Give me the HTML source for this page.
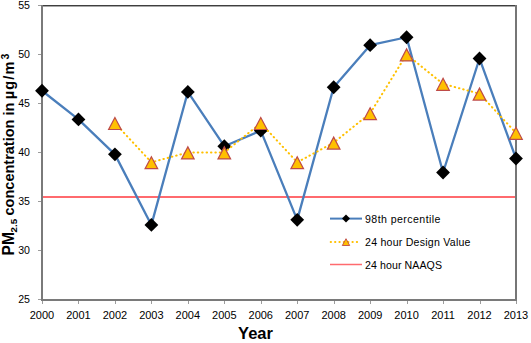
<!DOCTYPE html>
<html><head><meta charset="utf-8"><style>
html,body{margin:0;padding:0;background:#fff;width:531px;height:343px;overflow:hidden}
svg{display:block;font-family:"Liberation Sans", sans-serif}
</style></head><body>
<svg width="531" height="343" viewBox="0 0 531 343">
<rect width="531" height="343" fill="#fff"/>
<g shape-rendering="crispEdges">
<rect x="42" y="5" width="474" height="1" fill="#3f3f3f"/>
<rect x="42" y="6" width="474" height="1" fill="#a8a8a8"/>
<rect x="515" y="5" width="2" height="296" fill="#767676"/>
<rect x="41" y="5" width="2" height="296" fill="#7a7a7a"/>
<rect x="41" y="299" width="476" height="2" fill="#7a7a7a"/>
<rect x="38" y="5" width="3" height="1" fill="#9c9c9c"/>
<rect x="38" y="54" width="3" height="1" fill="#9c9c9c"/>
<rect x="38" y="103" width="3" height="1" fill="#9c9c9c"/>
<rect x="38" y="152" width="3" height="1" fill="#9c9c9c"/>
<rect x="38" y="201" width="3" height="1" fill="#9c9c9c"/>
<rect x="38" y="250" width="3" height="1" fill="#9c9c9c"/>
<rect x="38" y="299" width="3" height="1" fill="#9c9c9c"/>
<rect x="42" y="301" width="1" height="3" fill="#9c9c9c"/>
<rect x="78" y="301" width="1" height="3" fill="#9c9c9c"/>
<rect x="115" y="301" width="1" height="3" fill="#9c9c9c"/>
<rect x="151" y="301" width="1" height="3" fill="#9c9c9c"/>
<rect x="188" y="301" width="1" height="3" fill="#9c9c9c"/>
<rect x="224" y="301" width="1" height="3" fill="#9c9c9c"/>
<rect x="261" y="301" width="1" height="3" fill="#9c9c9c"/>
<rect x="297" y="301" width="1" height="3" fill="#9c9c9c"/>
<rect x="334" y="301" width="1" height="3" fill="#9c9c9c"/>
<rect x="370" y="301" width="1" height="3" fill="#9c9c9c"/>
<rect x="407" y="301" width="1" height="3" fill="#9c9c9c"/>
<rect x="443" y="301" width="1" height="3" fill="#9c9c9c"/>
<rect x="480" y="301" width="1" height="3" fill="#9c9c9c"/>
<rect x="516" y="301" width="1" height="3" fill="#9c9c9c"/>
</g>
<text x="30" y="9" text-anchor="end" font-size="10.6" fill="#000">55</text>
<text x="30" y="58" text-anchor="end" font-size="10.6" fill="#000">50</text>
<text x="30" y="107" text-anchor="end" font-size="10.6" fill="#000">45</text>
<text x="30" y="156" text-anchor="end" font-size="10.6" fill="#000">40</text>
<text x="30" y="205" text-anchor="end" font-size="10.6" fill="#000">35</text>
<text x="30" y="254" text-anchor="end" font-size="10.6" fill="#000">30</text>
<text x="30" y="303" text-anchor="end" font-size="10.6" fill="#000">25</text>
<text x="42.0" y="319" text-anchor="middle" font-size="11" fill="#000">2000</text>
<text x="78.46000000000001" y="319" text-anchor="middle" font-size="11" fill="#000">2001</text>
<text x="114.92" y="319" text-anchor="middle" font-size="11" fill="#000">2002</text>
<text x="151.38" y="319" text-anchor="middle" font-size="11" fill="#000">2003</text>
<text x="187.84" y="319" text-anchor="middle" font-size="11" fill="#000">2004</text>
<text x="224.3" y="319" text-anchor="middle" font-size="11" fill="#000">2005</text>
<text x="260.76" y="319" text-anchor="middle" font-size="11" fill="#000">2006</text>
<text x="297.22" y="319" text-anchor="middle" font-size="11" fill="#000">2007</text>
<text x="333.68" y="319" text-anchor="middle" font-size="11" fill="#000">2008</text>
<text x="370.14" y="319" text-anchor="middle" font-size="11" fill="#000">2009</text>
<text x="406.6" y="319" text-anchor="middle" font-size="11" fill="#000">2010</text>
<text x="443.06" y="319" text-anchor="middle" font-size="11" fill="#000">2011</text>
<text x="479.52" y="319" text-anchor="middle" font-size="11" fill="#000">2012</text>
<text x="515.98" y="319" text-anchor="middle" font-size="11" fill="#000">2013</text>
<line x1="43" y1="197" x2="515" y2="197" stroke="#FF6A6E" stroke-width="2"/>
<polyline points="42.00,90.76 78.46,119.38 114.92,154.36 151.38,224.92 187.84,91.94 224.30,146.23 260.76,130.65 297.22,219.83 333.68,87.23 370.14,45.19 406.60,37.25 443.06,172.49 479.52,58.52 515.98,158.48" fill="none" stroke="#4A7EBB" stroke-width="2.3" stroke-linejoin="round"/>
<polygon points="42.00,83.86 48.90,90.76 42.00,97.66 35.10,90.76" fill="#000"/>
<polygon points="78.46,112.48 85.36,119.38 78.46,126.28 71.56,119.38" fill="#000"/>
<polygon points="114.92,147.46 121.82,154.36 114.92,161.26 108.02,154.36" fill="#000"/>
<polygon points="151.38,218.02 158.28,224.92 151.38,231.82 144.48,224.92" fill="#000"/>
<polygon points="187.84,85.04 194.74,91.94 187.84,98.84 180.94,91.94" fill="#000"/>
<polygon points="224.30,139.33 231.20,146.23 224.30,153.13 217.40,146.23" fill="#000"/>
<polygon points="260.76,123.75 267.66,130.65 260.76,137.55 253.86,130.65" fill="#000"/>
<polygon points="297.22,212.93 304.12,219.83 297.22,226.73 290.32,219.83" fill="#000"/>
<polygon points="333.68,80.33 340.58,87.23 333.68,94.13 326.78,87.23" fill="#000"/>
<polygon points="370.14,38.29 377.04,45.19 370.14,52.09 363.24,45.19" fill="#000"/>
<polygon points="406.60,30.35 413.50,37.25 406.60,44.15 399.70,37.25" fill="#000"/>
<polygon points="443.06,165.59 449.96,172.49 443.06,179.39 436.16,172.49" fill="#000"/>
<polygon points="479.52,51.62 486.42,58.52 479.52,65.42 472.62,58.52" fill="#000"/>
<polygon points="515.98,151.58 522.88,158.48 515.98,165.38 509.08,158.48" fill="#000"/>
<polyline points="114.92,123.10 151.38,162.30 187.84,152.50 224.30,152.50 260.76,123.10 297.22,162.30 333.68,142.70 370.14,113.30 406.60,54.50 443.06,83.90 479.52,93.70 515.98,132.90" fill="none" stroke="#FFC000" stroke-width="2" stroke-dasharray="0.5 3.9" stroke-linecap="round"/>
<polygon points="114.92,117.50 121.22,129.50 108.62,129.50" fill="#FFC000" stroke="#BE4B48" stroke-width="1.2"/>
<polygon points="151.38,156.70 157.68,168.70 145.08,168.70" fill="#FFC000" stroke="#BE4B48" stroke-width="1.2"/>
<polygon points="187.84,146.90 194.14,158.90 181.54,158.90" fill="#FFC000" stroke="#BE4B48" stroke-width="1.2"/>
<polygon points="224.30,146.90 230.60,158.90 218.00,158.90" fill="#FFC000" stroke="#BE4B48" stroke-width="1.2"/>
<polygon points="260.76,117.50 267.06,129.50 254.46,129.50" fill="#FFC000" stroke="#BE4B48" stroke-width="1.2"/>
<polygon points="297.22,156.70 303.52,168.70 290.92,168.70" fill="#FFC000" stroke="#BE4B48" stroke-width="1.2"/>
<polygon points="333.68,137.10 339.98,149.10 327.38,149.10" fill="#FFC000" stroke="#BE4B48" stroke-width="1.2"/>
<polygon points="370.14,107.70 376.44,119.70 363.84,119.70" fill="#FFC000" stroke="#BE4B48" stroke-width="1.2"/>
<polygon points="406.60,48.90 412.90,60.90 400.30,60.90" fill="#FFC000" stroke="#BE4B48" stroke-width="1.2"/>
<polygon points="443.06,78.30 449.36,90.30 436.76,90.30" fill="#FFC000" stroke="#BE4B48" stroke-width="1.2"/>
<polygon points="479.52,88.10 485.82,100.10 473.22,100.10" fill="#FFC000" stroke="#BE4B48" stroke-width="1.2"/>
<polygon points="515.98,127.30 522.28,139.30 509.68,139.30" fill="#FFC000" stroke="#BE4B48" stroke-width="1.2"/>
<line x1="330" y1="218.6" x2="362" y2="218.6" stroke="#4A7EBB" stroke-width="2"/>
<polygon points="346.00,214.60 350.00,218.60 346.00,222.60 342.00,218.60" fill="#000"/>
<text x="365" y="222.6" font-size="10.6" textLength="75.5" lengthAdjust="spacing">98th percentile</text>
<line x1="330.7" y1="242" x2="359" y2="242" stroke="#FFC000" stroke-width="2" stroke-dasharray="0.3 4.05" stroke-linecap="round"/>
<polygon points="346.00,238.70 349.70,245.50 342.30,245.50" fill="#FFC000" stroke="#BE4B48" stroke-width="0.9"/>
<text x="365" y="245.6" font-size="10.6" textLength="105.5" lengthAdjust="spacing">24 hour Design Value</text>
<line x1="330" y1="264.5" x2="362" y2="264.5" stroke="#FF6A6E" stroke-width="1.5"/>
<text x="365" y="268.6" font-size="10.6" textLength="77" lengthAdjust="spacing">24 hour NAAQS</text>
<text x="255.5" y="338.6" text-anchor="middle" font-size="16.5" font-weight="bold">Year</text>
<text transform="translate(14,255.5) rotate(-90)" font-size="14.5" font-weight="bold"><tspan font-size="15.6">PM</tspan><tspan font-size="9.8" dx="-0.4" dy="3">2.5</tspan><tspan dy="-3" dx="-0.6"> concentration in </tspan><tspan dx="-0.5" letter-spacing="1.1">µg/m</tspan><tspan font-size="10.5" dx="1" dy="-5.5">3</tspan></text>
</svg></body></html>
